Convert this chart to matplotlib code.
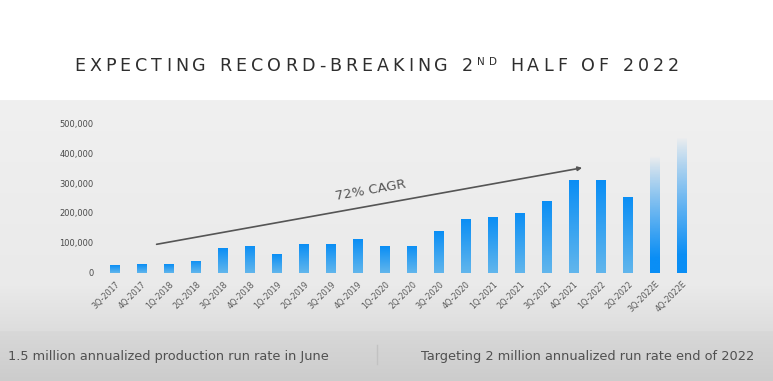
import numpy as np
import matplotlib
matplotlib.use('Agg')
import matplotlib.pyplot as plt
from matplotlib.colors import to_rgb

# chart data (deliveries per quarter, last two are estimates)
quarters = ['3Q-2017', '4Q-2017', '1Q-2018', '2Q-2018', '3Q-2018', '4Q-2018',
            '1Q-2019', '2Q-2019', '3Q-2019', '4Q-2019', '1Q-2020', '2Q-2020',
            '3Q-2020', '4Q-2020', '1Q-2021', '2Q-2021', '3Q-2021', '4Q-2021',
            '1Q-2022', '2Q-2022', '3Q-2022E', '4Q-2022E']
deliveries = [26150, 29870, 29980, 40740, 83500, 90700,
              63000, 95200, 97000, 112000, 88400, 90650,
              139300, 180570, 184800, 201250, 241300, 308600,
              310050, 254700, 390000, 455000]
is_estimate = [False] * 20 + [True] * 2
y_ticks = [0, 100000, 200000, 300000, 400000, 500000]

title_parts = [('EXPECTING RECORD-BREAKING 2', False), ('ND', True), (' HALF OF 2022', False)]
left_note = '1.5 million annualized production run rate in June'
right_note = 'Targeting 2 million annualized run rate end of 2022'
cagr_label = '72% CAGR'

W, H = 773, 381
fig = plt.figure(figsize=(W / 100, H / 100), dpi=100)

# background: white header, light gray panel, darker footer band
bg = fig.add_axes([0, 0, 1, 1])
bg.axis('off')
rows = np.zeros((H, 1, 3))
white = np.array(to_rgb('#ffffff'))
g_top = np.array(to_rgb('#f0f0f0'))
g_mid = np.array(to_rgb('#eaeaea'))
g_low = np.array(to_rgb('#dddddd'))
f_top = np.array(to_rgb('#d8d8d8'))
f_low = np.array(to_rgb('#cccccc'))
for r in range(H):
    if r < 100:
        rows[r, 0] = white
    elif r < 285:
        t = (r - 100) / 185
        rows[r, 0] = g_top * (1 - t) + g_mid * t
    elif r < 331:
        t = (r - 285) / 46
        rows[r, 0] = g_mid * (1 - t) + g_low * t
    else:
        t = (r - 331) / 50
        rows[r, 0] = f_top * (1 - t) + f_low * t
bg.imshow(rows, extent=[0, W, H, 0], aspect='auto')
bg.set_xlim(0, W)
bg.set_ylim(H, 0)

bg.plot([377, 377], [345, 364], color='#c2c2c2', lw=1)
bg.text(8, 360, left_note, fontsize=9.3, color='#505050', va='baseline', ha='left')
bg.text(754, 360, right_note, fontsize=9.3, color='#505050', va='baseline', ha='right')

# letter-spaced title
renderer = fig.canvas.get_renderer()
title_color = '#2e2e2e'
big, small = 12.6, 7.5
glyphs = []
for text, sup in title_parts:
    for ch in text:
        glyphs.append((ch, small if sup else big, sup))


def char_width(ch, size):
    if ch == ' ':
        return size * 1.39 * 0.32
    t = bg.text(0, 0, ch, fontsize=size)
    w = t.get_window_extent(renderer).width
    t.remove()
    return w


widths = [char_width(ch, s) for ch, s, _ in glyphs]
x_start, x_end, base = 74, 679, 70.7
gap = (x_end - x_start - sum(widths)) / (len(glyphs) - 1)
x = x_start
for (ch, size, sup), w in zip(glyphs, widths):
    if ch != ' ':
        bg.text(x, base - (5.5 if sup else 0), ch, fontsize=size, color=title_color,
                va='baseline', ha='left')
    x += w + gap

# bar chart
ax = fig.add_axes([96.1 / W, (H - 272.7) / H, 604.8 / W, 149.4 / H])
ax.patch.set_alpha(0)
for s in ax.spines.values():
    s.set_visible(False)

xs = np.arange(len(quarters))
bars = ax.bar(xs, deliveries, width=0.36, color='none', edgecolor='none', zorder=2)

blue = np.array(to_rgb('#0a8ef5'))
light = np.array(to_rgb('#62b6ec'))
n = 200
for bar, est in zip(bars, is_estimate):
    x0 = bar.get_x()
    x1 = x0 + bar.get_width()
    h = bar.get_height()
    grad = np.zeros((n, 1, 4))
    t = np.linspace(0, 1, n)  # 0 = top, 1 = bottom
    if est:
        grad[:, 0, :3] = blue
        grad[:, 0, 3] = np.clip(t * 1.15, 0, 1) ** 0.9
    else:
        grad[:, 0, :3] = blue[None, :] * (1 - t[:, None]) + light[None, :] * t[:, None]
        grad[:, 0, 3] = 1
    im = ax.imshow(grad, extent=[x0, x1, 0, h], aspect='auto', zorder=2)
    im.set_clip_path(bar)

ax.axhline(0, color='#f4f4f4', lw=0.8, zorder=1)

ax.set_xlim(-0.7, 21.7)
ax.set_ylim(0, 500000)
ax.set_yticks(y_ticks)
ax.set_yticklabels([f'{v:,}' for v in y_ticks])
ax.set_xticks(xs)
ax.set_xticklabels(quarters, rotation=45, ha='right', rotation_mode='anchor')
ax.tick_params(axis='y', length=0, pad=2, labelsize=6, labelcolor='#4a4a4a')
ax.tick_params(axis='x', length=0, pad=5, labelsize=5.8, labelcolor='#5a5a5a')

ax.annotate('', xy=(17.3, 351000), xytext=(1.54, 95000),
            arrowprops=dict(arrowstyle='-|>', color='#555555', lw=1.2,
                            mutation_scale=6, shrinkA=0, shrinkB=0))
ax.text(9.48, 276000, cagr_label, fontsize=9.5, color='#555555', rotation=10,
        ha='center', va='center')

fig.savefig('out.png', dpi=100)
